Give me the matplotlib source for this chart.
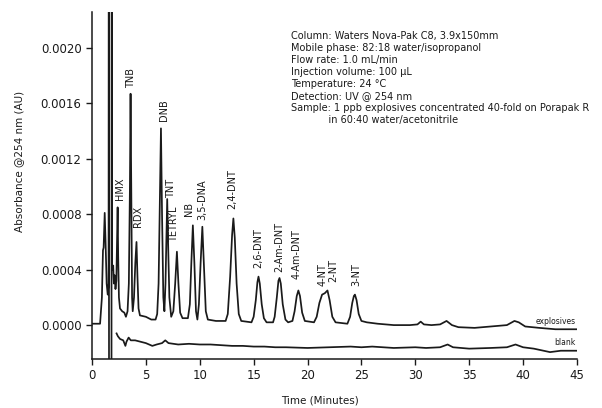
import numpy as np
import matplotlib
matplotlib.use("Agg")
import matplotlib.pyplot as plt

# explosives trace (time in min, absorbance in AU)
expl_t = [0.0, 0.75, 0.92, 1.02, 1.08, 1.18, 1.26, 1.36, 1.46, 1.54, 1.56, 1.58, 1.81, 1.83, 1.86,
          1.92, 1.97, 2.03, 2.10, 2.18, 2.26, 2.34, 2.38, 2.43, 2.50, 2.60, 2.80, 3.00, 3.15, 3.30,
          3.42, 3.52, 3.58, 3.65, 3.72, 3.78, 3.90, 4.02, 4.13, 4.22, 4.32, 4.45, 5.00, 5.50, 5.90,
          6.05, 6.18, 6.30, 6.40, 6.50, 6.62, 6.72, 6.82, 6.92, 6.98, 7.06, 7.18, 7.35, 7.55, 7.72,
          7.88, 8.02, 8.18, 8.40, 8.90, 9.08, 9.22, 9.36, 9.50, 9.65, 9.78, 9.92, 10.08, 10.24, 10.40,
          10.56, 10.75, 11.5, 12.4, 12.6, 12.82, 13.0, 13.12, 13.25, 13.42, 13.62, 13.85, 14.8, 15.0,
          15.2, 15.35, 15.45, 15.57, 15.75, 15.95, 16.2, 16.8, 16.95, 17.15, 17.3, 17.4, 17.52, 17.7,
          17.95, 18.2, 18.6, 18.8, 19.0, 19.15, 19.3, 19.5, 19.75, 20.6, 20.85, 21.1, 21.35, 21.6,
          21.85, 22.05, 22.3, 22.6, 23.7, 23.95, 24.15, 24.3, 24.4, 24.55, 24.75, 25.0, 25.5, 26.5,
          28.0, 29.5, 30.2, 30.5, 30.8, 31.5, 32.3, 32.9, 33.4, 34.0, 35.5, 37.0, 38.5, 39.2, 39.6,
          40.2, 41.5, 43.0, 45.0]
expl_a = [0.1, 0.1, 2.0, 5.4, 5.6, 8.1, 6.0, 3.0, 2.2, 3.0, 40.0, -5.0, -5.0, 40.0, 4.4,
          4.0, 4.3, 3.0, 3.6, 2.6, 3.2, 6.5, 8.5, 5.0, 2.0, 1.2, 1.0, 0.9, 0.6, 1.0,
          3.0, 10.0, 16.7, 9.0, 2.0, 1.0, 2.0, 4.5, 6.0, 3.5, 1.2, 0.7, 0.6, 0.4, 0.4,
          0.8, 3.0, 9.0, 14.2, 8.0, 2.0, 1.0, 3.0, 7.0, 9.1, 6.0, 2.0, 0.6, 1.0, 3.0,
          5.3, 3.0, 0.9, 0.5, 0.5, 1.5, 4.5, 7.2, 4.5, 1.0, 0.4, 1.5, 4.5, 7.1, 4.0,
          1.0, 0.4, 0.3, 0.3, 0.8, 3.5, 6.5, 7.7, 6.3, 3.0, 0.8, 0.3, 0.2, 0.6,
          1.8, 3.1, 3.5, 3.0, 1.5, 0.5, 0.2, 0.2, 0.6, 2.0, 3.2, 3.4, 3.0, 1.5,
          0.4, 0.2, 0.3, 1.0, 2.1, 2.5, 2.1, 0.9, 0.3, 0.2, 0.6, 1.6, 2.2, 2.3,
          2.5, 1.8, 0.6, 0.2, 0.1, 0.6, 1.6, 2.1, 2.2, 1.8, 0.8, 0.3, 0.2, 0.1,
          0.0, 0.0, 0.05, 0.25, 0.05, 0.0, 0.05, 0.3, 0.0, -0.15, -0.2, -0.1, 0.0, 0.3, 0.2,
          -0.1, -0.2, -0.3, -0.3]

# blank trace
blank_t = [2.28, 2.4, 2.6, 2.9, 3.1, 3.2, 3.4, 3.6, 4.0, 4.5, 5.0, 5.6, 6.0, 6.5, 6.8, 7.1, 8.0,
           9.0, 10.0, 11.0, 12.0, 13.0, 14.0, 15.0, 16.0, 17.0, 18.0, 20.0, 22.0, 24.0, 25.0, 26.0,
           27.0, 28.0, 30.0, 31.0, 32.3, 33.0, 33.5, 35.0, 37.0, 38.5, 39.3, 40.0, 41.0, 42.5, 43.5, 45.0]
blank_a = [-0.6, -0.8, -1.0, -1.1, -1.5, -1.2, -0.9, -1.1, -1.1, -1.2, -1.3, -1.5, -1.4, -1.3, -1.1, -1.3, -1.4,
           -1.35, -1.4, -1.4, -1.45, -1.5, -1.5, -1.55, -1.55, -1.6, -1.6, -1.65, -1.6, -1.55, -1.6, -1.55,
           -1.6, -1.65, -1.6, -1.65, -1.6, -1.4, -1.6, -1.7, -1.65, -1.6, -1.4, -1.6, -1.7, -1.95, -1.85, -1.85]

# labelled peaks (apex time, apex height)
peak_names = ["HMX", "TNB", "RDX", "DNB", "TNT", "TETRYL", "NB", "3,5-DNA", "2,4-DNT",
              "2,6-DNT", "2-Am-DNT", "4-Am-DNT", "4-NT", "2-NT", "3-NT"]
peak_t = [2.38, 3.58, 4.13, 6.40, 6.98, 7.88, 9.36, 10.24, 13.12, 15.45, 17.4, 19.15, 21.35, 21.85, 24.4]
peak_a = [8.5, 16.7, 6.0, 14.2, 9.1, 5.3, 7.2, 7.1, 7.7, 3.5, 3.4, 2.5, 2.2, 2.5, 2.2]
# label offsets in points (dx, dy)
label_off = [(2, 5), (0, 4), (1, 11), (2, 5), (3, 1), (-2, 7), (-3, 7), (0, 5), (-1, 7),
             (0, 6), (0, 4), (-1, 8), (0, 6), (4, 6), (1, 6)]

conditions = ("Column: Waters Nova-Pak C8, 3.9x150mm\n"
              "Mobile phase: 82:18 water/isopropanol\n"
              "Flow rate: 1.0 mL/min\n"
              "Injection volume: 100 µL\n"
              "Temperature: 24 °C\n"
              "Detection: UV @ 254 nm\n"
              "Sample: 1 ppb explosives concentrated 40-fold on Porapak R\n"
              "            in 60:40 water/acetonitrile")

scale = 1e-4
ink = "#1a1a1a"

fig = plt.figure(figsize=(6.02, 4.08), dpi=100)
ax = fig.add_axes([0.1528, 0.120, 0.8056, 0.8505])

ax.plot(expl_t, np.array(expl_a) * scale, color=ink, lw=1.25)
ax.plot(blank_t, np.array(blank_a) * scale, color=ink, lw=1.25)

for name, t, a, (dx, dy) in zip(peak_names, peak_t, peak_a, label_off):
    ax.annotate(name, (t, a * scale), xytext=(dx, dy), textcoords="offset points",
                rotation=90, ha="center", va="bottom", fontsize=7, color=ink)

ax.text(44.9, expl_a[-1] * scale + 0.00002, "explosives", ha="right", va="bottom",
        fontsize=5.5, color=ink)
ax.text(44.9, blank_a[-1] * scale + 0.00003, "blank", ha="right", va="bottom",
        fontsize=5.5, color=ink)

ax.text(0.41, 0.945, conditions, transform=ax.transAxes, ha="left", va="top",
        fontsize=7, linespacing=1.25, color=ink)

ax.set_xlim(0, 45)
ax.set_ylim(-0.000245, 0.00226)
ax.set_xticks(np.arange(0, 46, 5))
ax.set_yticks(np.arange(0, 0.00201, 0.0004))
ax.set_yticklabels(["%.4f" % v for v in np.arange(0, 0.00201, 0.0004)])
ax.tick_params(direction="out", length=4, width=1, labelsize=8.5, colors=ink)
for s in ["top", "right"]:
    ax.spines[s].set_visible(False)
for s in ["left", "bottom"]:
    ax.spines[s].set_linewidth(1.1)
    ax.spines[s].set_color(ink)

ax.set_xlabel("Time (Minutes)", fontsize=7.5, color=ink)
ax.xaxis.set_label_coords(0.47, -0.105)
ax.set_ylabel("Absorbance @254 nm (AU)", fontsize=7.5, color=ink)
ax.yaxis.set_label_coords(-0.14, 0.57)

fig.savefig("out.png", dpi=100)
